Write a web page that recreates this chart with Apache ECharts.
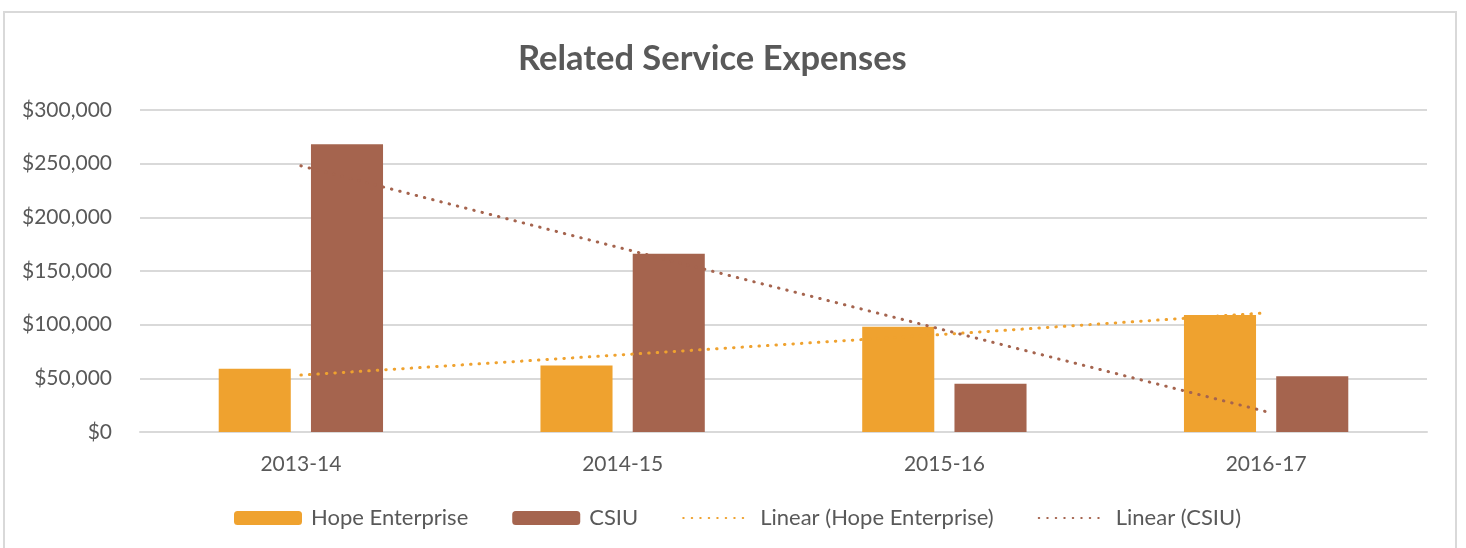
<!DOCTYPE html>
<html>
<head>
<meta charset="utf-8">
<title>Related Service Expenses</title>
<script src="https://cdn.jsdelivr.net/npm/echarts@6/dist/echarts.min.js"></script>
<style>
  html, body { margin: 0; padding: 0; background: #fff; }
  #chart { width: 1466px; height: 548px; }
</style>
</head>
<body>
<div id="chart"></div>
<script>
// data
const years = ['2013-14', '2014-15', '2015-16', '2016-17'];
const hopeEnterprise = [59000, 62000, 98000, 109000];
const csiu = [268000, 166000, 45000, 52000];
// trend lines, as drawn in the picture (value at each category)
const hopeTrend = [53000, 72000, 91000, 111000];
const csiuTrend = [248000, 171000, 95000, 19000];
const yTicks = { min: 0, max: 300000, interval: 50000 };

const textColor = '#595959';
const gridColor = '#d9d9d9';
const hopeColor = '#EFA22F';
const csiuColor = '#A5644E';
const font = 'Lato, "Open Sans", sans-serif';

const chart = echarts.init(document.getElementById('chart'));

const dotted = (color) => ({
  color: color,
  width: 3,
  type: [0.5, 8],
  cap: 'round'
});

chart.setOption({
  animation: false,
  textStyle: { fontFamily: font },
  title: {
    text: 'Related Service Expenses',
    left: 513,
    top: 36,
    textStyle: { color: textColor, fontSize: 34.5, fontWeight: 'bold', fontFamily: font }
  },
  graphic: [{
    type: 'rect',
    shape: { x: 4, y: 12, width: 1452, height: 560 },
    style: { fill: 'none', stroke: gridColor, lineWidth: 2 },
    silent: true
  }],
  legend: {
    left: 229,
    top: 502,
    itemWidth: 68,
    itemHeight: 14,
    itemGap: 44,
    textStyle: { color: textColor, fontSize: 22, fontFamily: font, padding: [0, 0, 0, 4] },
    data: [
      'Hope Enterprise',
      'CSIU',
      { name: 'Linear (Hope Enterprise)', itemStyle: { opacity: 0 } },
      { name: 'Linear (CSIU)', itemStyle: { opacity: 0 } }
    ]
  },
  grid: { left: 140, right: 39, top: 110, bottom: 116 },
  xAxis: {
    type: 'category',
    data: years,
    axisLine: { lineStyle: { color: gridColor, width: 2 } },
    axisTick: { show: false },
    axisLabel: { color: textColor, fontSize: 21, margin: 22, fontFamily: font }
  },
  yAxis: {
    type: 'value',
    min: yTicks.min,
    max: yTicks.max,
    interval: yTicks.interval,
    axisLine: { show: false },
    axisTick: { show: false },
    splitLine: { lineStyle: { color: gridColor, width: 2 } },
    axisLabel: {
      color: textColor,
      fontSize: 21,
      margin: 28,
      fontFamily: font,
      formatter: (v) => '$' + v.toLocaleString('en-US')
    }
  },
  series: [
    {
      name: 'Hope Enterprise',
      type: 'bar',
      data: hopeEnterprise,
      barWidth: '22.4%',
      barGap: '28%',
      itemStyle: { color: hopeColor }
    },
    {
      name: 'CSIU',
      type: 'bar',
      data: csiu,
      barWidth: '22.4%',
      itemStyle: { color: csiuColor }
    },
    {
      name: 'Linear (Hope Enterprise)',
      type: 'line',
      data: hopeTrend,
      symbol: 'none',
      itemStyle: { color: hopeColor },
      lineStyle: dotted(hopeColor),
      z: 5
    },
    {
      name: 'Linear (CSIU)',
      type: 'line',
      data: csiuTrend,
      symbol: 'none',
      itemStyle: { color: csiuColor },
      lineStyle: dotted(csiuColor),
      z: 5
    }
  ]
});
</script>
</body>
</html>
